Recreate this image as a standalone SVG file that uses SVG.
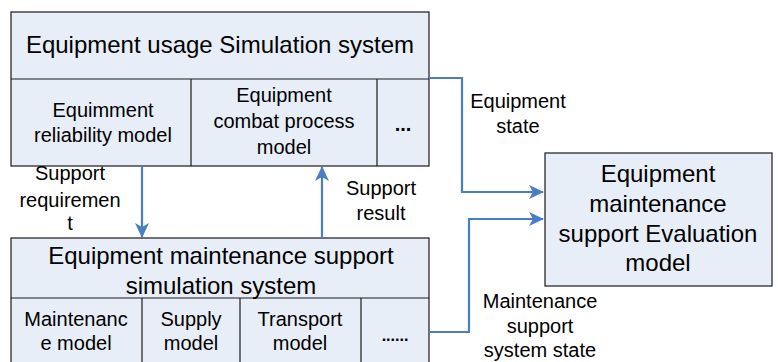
<svg xmlns="http://www.w3.org/2000/svg" width="778" height="362" viewBox="0 0 778 362">
<defs>
<style>
.box{fill:#E8EEF8;stroke:#1a1a1a;stroke-width:1.2}
.t{font-family:"Liberation Sans",Arial,sans-serif;fill:#000;text-anchor:middle}
.big{font-size:24px}
.sm{font-size:20px}
.con{fill:none;stroke:#4A7EC4;stroke-width:2.2}
</style>
<marker id="ah" markerWidth="15" markerHeight="14" viewBox="0 0 15 14" refX="14" refY="7" orient="auto" markerUnits="userSpaceOnUse">
<path d="M0,0 L15,7 L0,14 L4,7 Z" fill="#4A7EC4"/>
</marker>
</defs>
<rect width="778" height="362" fill="#fff"/>
<g id="usage-system">
<rect class="box" x="11" y="12" width="418" height="154"/>
<line x1="11" y1="79" x2="429" y2="79" stroke="#1a1a1a" stroke-width="1.2"/>
<line x1="191" y1="79" x2="191" y2="166" stroke="#1a1a1a" stroke-width="1.2"/>
<line x1="377" y1="79" x2="377" y2="166" stroke="#1a1a1a" stroke-width="1.2"/>
<text class="t big" x="220" y="53">Equipment usage Simulation system</text>
<text class="t sm" x="103" y="117">Equimment</text>
<text class="t sm" x="103" y="142">reliability model</text>
<text class="t sm" x="284" y="102">Equipment</text>
<text class="t sm" x="284" y="128">combat process</text>
<text class="t sm" x="284" y="154">model</text>
<text class="t sm" x="403" y="131" font-weight="bold">...</text>
</g>
<g id="support-system">
<rect class="box" x="11" y="238" width="418" height="130"/>
<line x1="11" y1="298" x2="429" y2="298" stroke="#1a1a1a" stroke-width="1.2"/>
<line x1="142" y1="298" x2="142" y2="362" stroke="#1a1a1a" stroke-width="1.2"/>
<line x1="240" y1="298" x2="240" y2="362" stroke="#1a1a1a" stroke-width="1.2"/>
<line x1="361" y1="298" x2="361" y2="362" stroke="#1a1a1a" stroke-width="1.2"/>
<text class="t big" x="221" y="264">Equipment maintenance support</text>
<text class="t big" x="221" y="294">simulation system</text>
<text class="t sm" x="76" y="326">Maintenanc</text>
<text class="t sm" x="76" y="350">e model</text>
<text class="t sm" x="191" y="326">Supply</text>
<text class="t sm" x="191" y="350">model</text>
<text class="t sm" x="300" y="326">Transport</text>
<text class="t sm" x="300" y="350">model</text>
<text class="t" x="395" y="341" font-size="16" font-weight="bold">......</text>
</g>
<g id="evaluation-model">
<rect class="box" x="545" y="153" width="227" height="133"/>
<text class="t big" x="658" y="182">Equipment</text>
<text class="t big" x="658" y="212">maintenance</text>
<text class="t big" x="658" y="242">support Evaluation</text>
<text class="t big" x="658" y="271">model</text>
</g>
<g id="connectors">
<path class="con" d="M142,166 V237" marker-end="url(#ah)"/>
<path class="con" d="M322,238 V167" marker-end="url(#ah)"/>
<path class="con" d="M429,78 H462 V192 H543" marker-end="url(#ah)"/>
<path class="con" d="M429,332 H469 V219 H543" marker-end="url(#ah)"/>
</g>
<g id="labels">
<text class="t sm" x="70" y="180">Support</text>
<text class="t sm" x="70" y="207">requiremen</text>
<text class="t sm" x="70" y="230">t</text>
<text class="t sm" x="381" y="195">Support</text>
<text class="t sm" x="381" y="220">result</text>
<text class="t sm" x="518" y="108">Equipment</text>
<text class="t sm" x="518" y="133">state</text>
<text class="t sm" x="540" y="308">Maintenance</text>
<text class="t sm" x="540" y="333">support</text>
<text class="t sm" x="540" y="357">system state</text>
</g>
</svg>
